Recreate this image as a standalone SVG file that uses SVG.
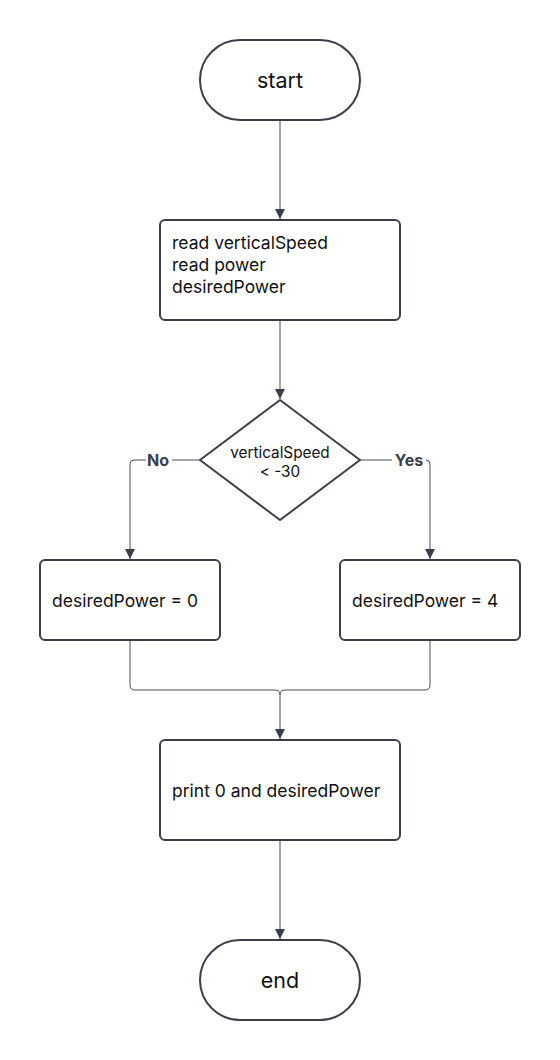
<svg xmlns="http://www.w3.org/2000/svg" width="560" height="1060" viewBox="0 0 560 1060">
<style>
.node{fill:#ffffff;stroke:#3a3f4b;stroke-width:2}
.t{font-family:Inter,"Liberation Sans",sans-serif;fill:#111111}
.edge{fill:none;stroke:#4a4f5a;stroke-width:1}
.lbl{font-family:Inter,"Liberation Sans",sans-serif;font-weight:bold;font-size:16px;fill:#3a3f4b}
</style>
<defs>
<marker id="arr" viewBox="0 0 10 10" refX="10" refY="5" markerWidth="10" markerHeight="10" markerUnits="userSpaceOnUse" orient="auto">
<path d="M0,0 L10,5 L0,10 z" fill="#3a3f4b"/>
</marker>
</defs>
<rect width="560" height="1060" fill="#ffffff"/>
<g id="connectors">
<path class="edge" d="M280,121 V219" marker-end="url(#arr)"/>
<path class="edge" d="M280,321 V399" marker-end="url(#arr)"/>
<path class="edge" d="M200,460 H134 Q130,460 130,464 V559" marker-end="url(#arr)"/>
<path class="edge" d="M360,460 H426 Q430,460 430,464 V559" marker-end="url(#arr)"/>
<path class="edge" d="M130,641 V685 Q130,690 135,690 H275 Q280,690 280,695 V739" marker-end="url(#arr)"/>
<path class="edge" d="M430,641 V685 Q430,690 425,690 H285 Q280,690 280,695"/>
<path class="edge" d="M280,841 V939" marker-end="url(#arr)"/>
<rect x="146" y="452" width="26" height="18" fill="#ffffff"/>
<text class="lbl" x="158" y="466" text-anchor="middle">No</text>
<rect x="392" y="452" width="34" height="18" fill="#ffffff"/>
<text class="lbl" x="409" y="466" text-anchor="middle">Yes</text>
</g>
<g id="start">
<rect class="node" x="200" y="40" width="160" height="80" rx="40"/>
<text class="t" x="280" y="88" font-size="21.5" text-anchor="middle">start</text>
</g>
<g id="read">
<rect class="node" x="160" y="220" width="240" height="100" rx="5"/>
<text class="t" font-size="17.5"><tspan x="172" y="249">read verticalSpeed</tspan><tspan x="172" y="271">read power</tspan><tspan x="172" y="293">desiredPower</tspan></text>
</g>
<g id="decision">
<path class="node" d="M280,400 L360,460 L280,520 L200,460 Z" stroke-linejoin="round"/>
<text class="t" font-size="15.3" text-anchor="middle"><tspan x="280" y="458">verticalSpeed</tspan><tspan x="280" y="477">&lt; -30</tspan></text>
</g>
<g id="no-box">
<rect class="node" x="40" y="560" width="180" height="80" rx="5"/>
<text class="t" x="52" y="607" font-size="17.5">desiredPower = 0</text>
</g>
<g id="yes-box">
<rect class="node" x="340" y="560" width="180" height="80" rx="5"/>
<text class="t" x="352" y="607" font-size="17.5">desiredPower = 4</text>
</g>
<g id="print">
<rect class="node" x="160" y="740" width="240" height="100" rx="5"/>
<text class="t" x="172" y="797" font-size="17.5">print 0 and desiredPower</text>
</g>
<g id="end">
<rect class="node" x="200" y="940" width="160" height="80" rx="40"/>
<text class="t" x="280" y="988" font-size="21.5" text-anchor="middle">end</text>
</g>
</svg>
